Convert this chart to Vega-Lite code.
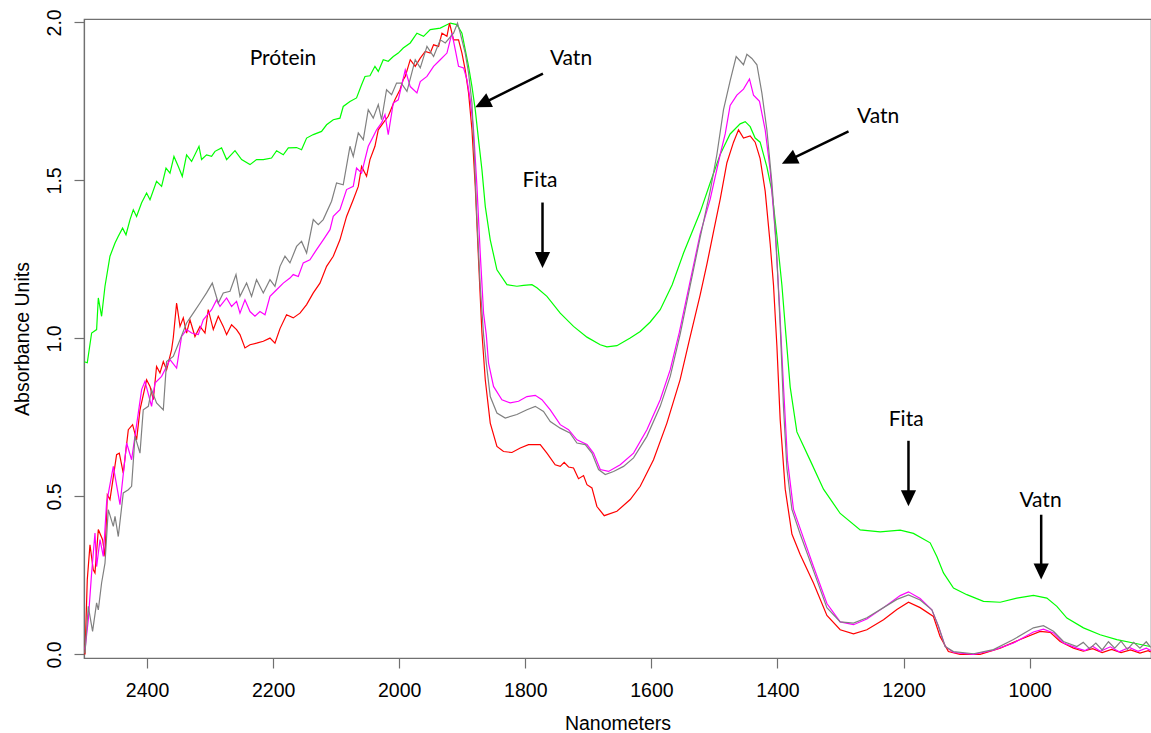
{
"$schema": "https://vega.github.io/schema/vega-lite/v6.json",
"width": 1067, "height": 639,
"autosize": {"type": "none"},
"padding": {"left": 84, "top": 19, "right": 0, "bottom": 75},
"background": "white",
"config": {"view": {"stroke": "#707070", "strokeWidth": 1.2}, "font": "Liberation Sans"},
"datasets": {
"spectra": [
{"s":"green","nm":2499.5,"a":0.926},{"s":"green","nm":2494.8,"a":0.923},{"s":"green","nm":2487.9,"a":1.017},{"s":"green","nm":2480.0,"a":1.028},{"s":"green","nm":2477.3,"a":1.128},{"s":"green","nm":2472.1,"a":1.070},{"s":"green","nm":2466.7,"a":1.165},{"s":"green","nm":2458.8,"a":1.260},{"s":"green","nm":2450.8,"a":1.302},{"s":"green","nm":2445.6,"a":1.323},{"s":"green","nm":2438.8,"a":1.349},{"s":"green","nm":2433.4,"a":1.328},{"s":"green","nm":2427.0,"a":1.376},{"s":"green","nm":2421.8,"a":1.407},{"s":"green","nm":2416.6,"a":1.386},{"s":"green","nm":2408.6,"a":1.429},{"s":"green","nm":2400.7,"a":1.460},{"s":"green","nm":2395.3,"a":1.439},{"s":"green","nm":2384.9,"a":1.497},{"s":"green","nm":2376.9,"a":1.481},{"s":"green","nm":2369.9,"a":1.539},{"s":"green","nm":2363.6,"a":1.523},{"s":"green","nm":2357.3,"a":1.576},{"s":"green","nm":2350.4,"a":1.544},{"s":"green","nm":2344.1,"a":1.513},{"s":"green","nm":2337.3,"a":1.581},{"s":"green","nm":2329.3,"a":1.560},{"s":"green","nm":2317.6,"a":1.608},{"s":"green","nm":2313.5,"a":1.566},{"s":"green","nm":2305.6,"a":1.581},{"s":"green","nm":2297.6,"a":1.576},{"s":"green","nm":2292.2,"a":1.592},{"s":"green","nm":2281.8,"a":1.603},{"s":"green","nm":2273.8,"a":1.566},{"s":"green","nm":2260.5,"a":1.594},{"s":"green","nm":2250.0,"a":1.566},{"s":"green","nm":2236.7,"a":1.550},{"s":"green","nm":2226.3,"a":1.566},{"s":"green","nm":2215.6,"a":1.566},{"s":"green","nm":2202.5,"a":1.571},{"s":"green","nm":2194.5,"a":1.594},{"s":"green","nm":2183.9,"a":1.581},{"s":"green","nm":2175.9,"a":1.603},{"s":"green","nm":2162.8,"a":1.604},{"s":"green","nm":2154.9,"a":1.597},{"s":"green","nm":2146.9,"a":1.634},{"s":"green","nm":2136.3,"a":1.645},{"s":"green","nm":2123.2,"a":1.655},{"s":"green","nm":2115.2,"a":1.676},{"s":"green","nm":2104.6,"a":1.692},{"s":"green","nm":2094.0,"a":1.697},{"s":"green","nm":2088.8,"a":1.734},{"s":"green","nm":2078.1,"a":1.750},{"s":"green","nm":2067.7,"a":1.761},{"s":"green","nm":2059.7,"a":1.803},{"s":"green","nm":2054.3,"a":1.829},{"s":"green","nm":2046.4,"a":1.831},{"s":"green","nm":2038.5,"a":1.861},{"s":"green","nm":2033.2,"a":1.845},{"s":"green","nm":2025.3,"a":1.882},{"s":"green","nm":2017.4,"a":1.877},{"s":"green","nm":2009.4,"a":1.892},{"s":"green","nm":2001.5,"a":1.903},{"s":"green","nm":1993.6,"a":1.919},{"s":"green","nm":1982.5,"a":1.935},{"s":"green","nm":1971.9,"a":1.966},{"s":"green","nm":1961.4,"a":1.956},{"s":"green","nm":1950.8,"a":1.977},{"s":"green","nm":1934.9,"a":1.982},{"s":"green","nm":1919.0,"a":1.998},{"s":"green","nm":1908.4,"a":1.993},{"s":"green","nm":1900.5,"a":1.966},{"s":"green","nm":1895.3,"a":1.914},{"s":"green","nm":1890.0,"a":1.861},{"s":"green","nm":1884.6,"a":1.797},{"s":"green","nm":1879.4,"a":1.724},{"s":"green","nm":1874.2,"a":1.629},{"s":"green","nm":1868.8,"a":1.534},{"s":"green","nm":1863.5,"a":1.418},{"s":"green","nm":1855.6,"a":1.312},{"s":"green","nm":1845.0,"a":1.217},{"s":"green","nm":1829.1,"a":1.170},{"s":"green","nm":1813.3,"a":1.165},{"s":"green","nm":1802.8,"a":1.168},{"s":"green","nm":1789.5,"a":1.170},{"s":"green","nm":1781.6,"a":1.160},{"s":"green","nm":1765.7,"a":1.133},{"s":"green","nm":1744.6,"a":1.080},{"s":"green","nm":1723.5,"a":1.038},{"s":"green","nm":1702.2,"a":1.004},{"s":"green","nm":1681.1,"a":0.980},{"s":"green","nm":1670.5,"a":0.973},{"s":"green","nm":1654.7,"a":0.977},{"s":"green","nm":1633.6,"a":1.001},{"s":"green","nm":1617.7,"a":1.022},{"s":"green","nm":1601.8,"a":1.052},{"s":"green","nm":1586.0,"a":1.091},{"s":"green","nm":1567.0,"a":1.170},{"s":"green","nm":1549.0,"a":1.270},{"s":"green","nm":1522.7,"a":1.399},{"s":"green","nm":1506.8,"a":1.492},{"s":"green","nm":1490.9,"a":1.582},{"s":"green","nm":1475.1,"a":1.647},{"s":"green","nm":1459.2,"a":1.679},{"s":"green","nm":1451.2,"a":1.686},{"s":"green","nm":1443.3,"a":1.670},{"s":"green","nm":1435.4,"a":1.634},{"s":"green","nm":1427.5,"a":1.621},{"s":"green","nm":1416.8,"a":1.543},{"s":"green","nm":1408.8,"a":1.466},{"s":"green","nm":1400.9,"a":1.324},{"s":"green","nm":1393.0,"a":1.169},{"s":"green","nm":1386.2,"a":1.001},{"s":"green","nm":1379.8,"a":0.846},{"s":"green","nm":1369.2,"a":0.704},{"s":"green","nm":1348.1,"a":0.614},{"s":"green","nm":1327.0,"a":0.523},{"s":"green","nm":1300.5,"a":0.446},{"s":"green","nm":1268.8,"a":0.394},{"s":"green","nm":1237.1,"a":0.388},{"s":"green","nm":1205.4,"a":0.393},{"s":"green","nm":1184.3,"a":0.383},{"s":"green","nm":1157.8,"a":0.353},{"s":"green","nm":1147.2,"a":0.310},{"s":"green","nm":1136.7,"a":0.258},{"s":"green","nm":1120.8,"a":0.210},{"s":"green","nm":1099.6,"a":0.189},{"s":"green","nm":1073.2,"a":0.168},{"s":"green","nm":1046.7,"a":0.165},{"s":"green","nm":1020.3,"a":0.178},{"s":"green","nm":993.9,"a":0.187},{"s":"green","nm":972.7,"a":0.178},{"s":"green","nm":956.8,"a":0.152},{"s":"green","nm":940.9,"a":0.115},{"s":"green","nm":914.6,"a":0.084},{"s":"green","nm":888.2,"a":0.062},{"s":"green","nm":861.7,"a":0.047},{"s":"green","nm":835.3,"a":0.036},{"s":"green","nm":808.9,"a":0.025},
{"s":"red","nm":2498.4,"a":0.000},{"s":"red","nm":2494.8,"a":0.236},{"s":"red","nm":2490.5,"a":0.347},{"s":"red","nm":2485.3,"a":0.268},{"s":"red","nm":2482.6,"a":0.258},{"s":"red","nm":2477.3,"a":0.395},{"s":"red","nm":2470.5,"a":0.363},{"s":"red","nm":2466.7,"a":0.310},{"s":"red","nm":2463.0,"a":0.505},{"s":"red","nm":2458.8,"a":0.490},{"s":"red","nm":2448.3,"a":0.632},{"s":"red","nm":2444.0,"a":0.637},{"s":"red","nm":2437.7,"a":0.574},{"s":"red","nm":2429.7,"a":0.711},{"s":"red","nm":2422.9,"a":0.727},{"s":"red","nm":2416.6,"a":0.679},{"s":"red","nm":2411.2,"a":0.774},{"s":"red","nm":2400.7,"a":0.869},{"s":"red","nm":2395.3,"a":0.848},{"s":"red","nm":2390.1,"a":0.806},{"s":"red","nm":2384.9,"a":0.911},{"s":"red","nm":2379.5,"a":0.891},{"s":"red","nm":2374.2,"a":0.927},{"s":"red","nm":2369.0,"a":0.901},{"s":"red","nm":2361.1,"a":0.964},{"s":"red","nm":2358.4,"a":1.002},{"s":"red","nm":2353.1,"a":1.112},{"s":"red","nm":2347.7,"a":1.038},{"s":"red","nm":2342.5,"a":1.065},{"s":"red","nm":2337.3,"a":1.017},{"s":"red","nm":2331.9,"a":1.059},{"s":"red","nm":2324.0,"a":1.006},{"s":"red","nm":2316.0,"a":1.038},{"s":"red","nm":2308.1,"a":1.017},{"s":"red","nm":2302.9,"a":1.091},{"s":"red","nm":2294.9,"a":1.028},{"s":"red","nm":2287.0,"a":1.070},{"s":"red","nm":2279.1,"a":1.038},{"s":"red","nm":2273.8,"a":1.012},{"s":"red","nm":2265.9,"a":1.043},{"s":"red","nm":2258.0,"a":1.028},{"s":"red","nm":2252.6,"a":1.012},{"s":"red","nm":2244.7,"a":0.970},{"s":"red","nm":2236.7,"a":0.980},{"s":"red","nm":2226.3,"a":0.985},{"s":"red","nm":2215.6,"a":0.991},{"s":"red","nm":2205.0,"a":1.001},{"s":"red","nm":2197.1,"a":0.985},{"s":"red","nm":2189.1,"a":1.031},{"s":"red","nm":2178.7,"a":1.075},{"s":"red","nm":2168.1,"a":1.065},{"s":"red","nm":2157.4,"a":1.080},{"s":"red","nm":2146.9,"a":1.107},{"s":"red","nm":2136.3,"a":1.144},{"s":"red","nm":2125.7,"a":1.175},{"s":"red","nm":2115.2,"a":1.228},{"s":"red","nm":2104.6,"a":1.260},{"s":"red","nm":2094.0,"a":1.312},{"s":"red","nm":2083.5,"a":1.386},{"s":"red","nm":2072.9,"a":1.439},{"s":"red","nm":2064.9,"a":1.481},{"s":"red","nm":2059.7,"a":1.544},{"s":"red","nm":2051.8,"a":1.513},{"s":"red","nm":2046.4,"a":1.566},{"s":"red","nm":2038.5,"a":1.608},{"s":"red","nm":2033.2,"a":1.660},{"s":"red","nm":2025.3,"a":1.682},{"s":"red","nm":2017.4,"a":1.703},{"s":"red","nm":2006.8,"a":1.755},{"s":"red","nm":1998.8,"a":1.787},{"s":"red","nm":1993.6,"a":1.819},{"s":"red","nm":1990.4,"a":1.829},{"s":"red","nm":1982.5,"a":1.882},{"s":"red","nm":1974.6,"a":1.861},{"s":"red","nm":1966.6,"a":1.887},{"s":"red","nm":1958.7,"a":1.908},{"s":"red","nm":1950.8,"a":1.903},{"s":"red","nm":1945.5,"a":1.929},{"s":"red","nm":1937.6,"a":1.924},{"s":"red","nm":1932.2,"a":1.966},{"s":"red","nm":1924.3,"a":1.956},{"s":"red","nm":1920.2,"a":1.998},{"s":"red","nm":1913.8,"a":1.945},{"s":"red","nm":1905.9,"a":1.945},{"s":"red","nm":1900.5,"a":1.903},{"s":"red","nm":1895.3,"a":1.850},{"s":"red","nm":1890.0,"a":1.777},{"s":"red","nm":1884.6,"a":1.660},{"s":"red","nm":1879.4,"a":1.481},{"s":"red","nm":1874.2,"a":1.249},{"s":"red","nm":1868.8,"a":1.018},{"s":"red","nm":1863.5,"a":0.869},{"s":"red","nm":1855.6,"a":0.732},{"s":"red","nm":1845.0,"a":0.658},{"s":"red","nm":1834.5,"a":0.642},{"s":"red","nm":1821.2,"a":0.639},{"s":"red","nm":1808.0,"a":0.653},{"s":"red","nm":1794.9,"a":0.664},{"s":"red","nm":1776.3,"a":0.664},{"s":"red","nm":1765.7,"a":0.637},{"s":"red","nm":1752.6,"a":0.600},{"s":"red","nm":1744.6,"a":0.595},{"s":"red","nm":1738.3,"a":0.608},{"s":"red","nm":1731.4,"a":0.593},{"s":"red","nm":1723.5,"a":0.590},{"s":"red","nm":1715.6,"a":0.556},{"s":"red","nm":1707.6,"a":0.566},{"s":"red","nm":1702.2,"a":0.537},{"s":"red","nm":1694.3,"a":0.527},{"s":"red","nm":1686.4,"a":0.468},{"s":"red","nm":1674.8,"a":0.439},{"s":"red","nm":1654.7,"a":0.453},{"s":"red","nm":1633.6,"a":0.490},{"s":"red","nm":1617.7,"a":0.532},{"s":"red","nm":1596.6,"a":0.616},{"s":"red","nm":1575.4,"a":0.732},{"s":"red","nm":1554.5,"a":0.869},{"s":"red","nm":1539.6,"a":0.996},{"s":"red","nm":1522.7,"a":1.137},{"s":"red","nm":1512.0,"a":1.234},{"s":"red","nm":1501.5,"a":1.337},{"s":"red","nm":1490.9,"a":1.440},{"s":"red","nm":1480.2,"a":1.556},{"s":"red","nm":1469.7,"a":1.621},{"s":"red","nm":1461.8,"a":1.660},{"s":"red","nm":1453.9,"a":1.634},{"s":"red","nm":1443.3,"a":1.641},{"s":"red","nm":1435.4,"a":1.621},{"s":"red","nm":1427.5,"a":1.569},{"s":"red","nm":1419.5,"a":1.466},{"s":"red","nm":1411.5,"a":1.298},{"s":"red","nm":1406.3,"a":1.169},{"s":"red","nm":1400.9,"a":0.975},{"s":"red","nm":1395.7,"a":0.743},{"s":"red","nm":1387.7,"a":0.523},{"s":"red","nm":1377.1,"a":0.381},{"s":"red","nm":1364.0,"a":0.316},{"s":"red","nm":1342.9,"a":0.226},{"s":"red","nm":1321.6,"a":0.123},{"s":"red","nm":1300.5,"a":0.078},{"s":"red","nm":1279.4,"a":0.065},{"s":"red","nm":1258.2,"a":0.078},{"s":"red","nm":1231.8,"a":0.110},{"s":"red","nm":1210.6,"a":0.142},{"s":"red","nm":1192.2,"a":0.165},{"s":"red","nm":1173.7,"a":0.148},{"s":"red","nm":1152.6,"a":0.120},{"s":"red","nm":1142.1,"a":0.057},{"s":"red","nm":1128.9,"a":0.009},{"s":"red","nm":1110.4,"a":0.000},{"s":"red","nm":1078.6,"a":0.000},{"s":"red","nm":1046.7,"a":0.020},{"s":"red","nm":1015.0,"a":0.047},{"s":"red","nm":983.3,"a":0.073},{"s":"red","nm":967.4,"a":0.070},{"s":"red","nm":951.6,"a":0.041},{"s":"red","nm":930.5,"a":0.020},{"s":"red","nm":915,"a":0.010},{"s":"red","nm":900,"a":0.018},{"s":"red","nm":885,"a":0.006},{"s":"red","nm":870,"a":0.016},{"s":"red","nm":855,"a":0.006},{"s":"red","nm":840,"a":0.014},{"s":"red","nm":825,"a":0.004},{"s":"red","nm":812,"a":0.012},{"s":"red","nm":808,"a":0.008},
{"s":"magenta","nm":2498.4,"a":0.015},{"s":"magenta","nm":2493.2,"a":0.110},{"s":"magenta","nm":2487.9,"a":0.258},{"s":"magenta","nm":2482.6,"a":0.384},{"s":"magenta","nm":2480.0,"a":0.278},{"s":"magenta","nm":2474.6,"a":0.363},{"s":"magenta","nm":2469.4,"a":0.310},{"s":"magenta","nm":2464.2,"a":0.479},{"s":"magenta","nm":2453.5,"a":0.595},{"s":"magenta","nm":2442.9,"a":0.474},{"s":"magenta","nm":2432.4,"a":0.669},{"s":"magenta","nm":2424.5,"a":0.616},{"s":"magenta","nm":2408.6,"a":0.838},{"s":"magenta","nm":2403.3,"a":0.864},{"s":"magenta","nm":2392.8,"a":0.785},{"s":"magenta","nm":2387.4,"a":0.859},{"s":"magenta","nm":2376.9,"a":0.880},{"s":"magenta","nm":2369.0,"a":0.911},{"s":"magenta","nm":2363.6,"a":0.933},{"s":"magenta","nm":2353.1,"a":0.906},{"s":"magenta","nm":2345.2,"a":1.006},{"s":"magenta","nm":2337.3,"a":1.028},{"s":"magenta","nm":2329.3,"a":1.017},{"s":"magenta","nm":2318.7,"a":1.012},{"s":"magenta","nm":2310.8,"a":1.059},{"s":"magenta","nm":2297.6,"a":1.091},{"s":"magenta","nm":2289.7,"a":1.122},{"s":"magenta","nm":2284.3,"a":1.101},{"s":"magenta","nm":2273.8,"a":1.128},{"s":"magenta","nm":2265.9,"a":1.101},{"s":"magenta","nm":2258.0,"a":1.117},{"s":"magenta","nm":2252.6,"a":1.080},{"s":"magenta","nm":2244.7,"a":1.122},{"s":"magenta","nm":2236.7,"a":1.085},{"s":"magenta","nm":2228.8,"a":1.070},{"s":"magenta","nm":2220.9,"a":1.085},{"s":"magenta","nm":2212.9,"a":1.075},{"s":"magenta","nm":2205.0,"a":1.133},{"s":"magenta","nm":2194.5,"a":1.154},{"s":"magenta","nm":2183.9,"a":1.175},{"s":"magenta","nm":2173.3,"a":1.191},{"s":"magenta","nm":2168.1,"a":1.202},{"s":"magenta","nm":2160.1,"a":1.196},{"s":"magenta","nm":2152.2,"a":1.239},{"s":"magenta","nm":2141.6,"a":1.249},{"s":"magenta","nm":2131.1,"a":1.281},{"s":"magenta","nm":2120.5,"a":1.312},{"s":"magenta","nm":2109.8,"a":1.344},{"s":"magenta","nm":2104.6,"a":1.386},{"s":"magenta","nm":2094.0,"a":1.407},{"s":"magenta","nm":2083.5,"a":1.471},{"s":"magenta","nm":2072.9,"a":1.481},{"s":"magenta","nm":2067.7,"a":1.539},{"s":"magenta","nm":2059.7,"a":1.523},{"s":"magenta","nm":2049.1,"a":1.608},{"s":"magenta","nm":2041.2,"a":1.639},{"s":"magenta","nm":2035.9,"a":1.660},{"s":"magenta","nm":2028.0,"a":1.682},{"s":"magenta","nm":2022.6,"a":1.708},{"s":"magenta","nm":2017.4,"a":1.645},{"s":"magenta","nm":2009.4,"a":1.745},{"s":"magenta","nm":2001.5,"a":1.755},{"s":"magenta","nm":1990.4,"a":1.850},{"s":"magenta","nm":1982.5,"a":1.797},{"s":"magenta","nm":1971.9,"a":1.777},{"s":"magenta","nm":1966.6,"a":1.813},{"s":"magenta","nm":1956.0,"a":1.829},{"s":"magenta","nm":1945.5,"a":1.861},{"s":"magenta","nm":1934.9,"a":1.882},{"s":"magenta","nm":1924.3,"a":1.903},{"s":"magenta","nm":1916.4,"a":1.966},{"s":"magenta","nm":1911.1,"a":1.914},{"s":"magenta","nm":1905.9,"a":1.861},{"s":"magenta","nm":1897.9,"a":1.856},{"s":"magenta","nm":1892.6,"a":1.819},{"s":"magenta","nm":1887.3,"a":1.755},{"s":"magenta","nm":1882.1,"a":1.660},{"s":"magenta","nm":1876.7,"a":1.481},{"s":"magenta","nm":1871.5,"a":1.270},{"s":"magenta","nm":1866.2,"a":1.080},{"s":"magenta","nm":1861.9,"a":1.012},{"s":"magenta","nm":1858.3,"a":0.922},{"s":"magenta","nm":1850.4,"a":0.848},{"s":"magenta","nm":1837.1,"a":0.806},{"s":"magenta","nm":1823.9,"a":0.796},{"s":"magenta","nm":1810.7,"a":0.801},{"s":"magenta","nm":1797.4,"a":0.816},{"s":"magenta","nm":1784.2,"a":0.820},{"s":"magenta","nm":1773.6,"a":0.806},{"s":"magenta","nm":1760.4,"a":0.774},{"s":"magenta","nm":1744.6,"a":0.727},{"s":"magenta","nm":1731.4,"a":0.711},{"s":"magenta","nm":1718.1,"a":0.679},{"s":"magenta","nm":1702.2,"a":0.664},{"s":"magenta","nm":1691.8,"a":0.637},{"s":"magenta","nm":1681.1,"a":0.585},{"s":"magenta","nm":1668.0,"a":0.579},{"s":"magenta","nm":1649.4,"a":0.600},{"s":"magenta","nm":1628.3,"a":0.637},{"s":"magenta","nm":1607.1,"a":0.711},{"s":"magenta","nm":1586.0,"a":0.806},{"s":"magenta","nm":1570.1,"a":0.901},{"s":"magenta","nm":1555.8,"a":1.018},{"s":"magenta","nm":1522.7,"a":1.330},{"s":"magenta","nm":1506.8,"a":1.440},{"s":"magenta","nm":1490.9,"a":1.582},{"s":"magenta","nm":1482.9,"a":1.647},{"s":"magenta","nm":1475.1,"a":1.737},{"s":"magenta","nm":1464.4,"a":1.770},{"s":"magenta","nm":1453.9,"a":1.789},{"s":"magenta","nm":1444.4,"a":1.821},{"s":"magenta","nm":1438.0,"a":1.770},{"s":"magenta","nm":1428.5,"a":1.750},{"s":"magenta","nm":1419.5,"a":1.660},{"s":"magenta","nm":1411.5,"a":1.531},{"s":"magenta","nm":1403.6,"a":1.337},{"s":"magenta","nm":1396.8,"a":1.104},{"s":"magenta","nm":1390.4,"a":0.846},{"s":"magenta","nm":1384.1,"a":0.614},{"s":"magenta","nm":1374.6,"a":0.459},{"s":"magenta","nm":1358.7,"a":0.368},{"s":"magenta","nm":1342.9,"a":0.278},{"s":"magenta","nm":1321.6,"a":0.161},{"s":"magenta","nm":1300.5,"a":0.103},{"s":"magenta","nm":1279.4,"a":0.094},{"s":"magenta","nm":1258.2,"a":0.112},{"s":"magenta","nm":1231.8,"a":0.148},{"s":"magenta","nm":1205.4,"a":0.186},{"s":"magenta","nm":1192.2,"a":0.198},{"s":"magenta","nm":1173.7,"a":0.177},{"s":"magenta","nm":1155.1,"a":0.141},{"s":"magenta","nm":1144.7,"a":0.089},{"s":"magenta","nm":1134.0,"a":0.025},{"s":"magenta","nm":1120.8,"a":0.006},{"s":"magenta","nm":1089.1,"a":0.000},{"s":"magenta","nm":1057.4,"a":0.013},{"s":"magenta","nm":1025.7,"a":0.036},{"s":"magenta","nm":994.0,"a":0.071},{"s":"magenta","nm":978.1,"a":0.080},{"s":"magenta","nm":962.2,"a":0.068},{"s":"magenta","nm":946.4,"a":0.036},{"s":"magenta","nm":925.1,"a":0.020},{"s":"magenta","nm":912,"a":0.012},{"s":"magenta","nm":900,"a":0.026},{"s":"magenta","nm":888,"a":0.010},{"s":"magenta","nm":872,"a":0.024},{"s":"magenta","nm":858,"a":0.008},{"s":"magenta","nm":842,"a":0.022},{"s":"magenta","nm":828,"a":0.010},{"s":"magenta","nm":815,"a":0.020},{"s":"magenta","nm":808,"a":0.012},
{"s":"gray","nm":2498.4,"a":0.004},{"s":"gray","nm":2493.2,"a":0.152},{"s":"gray","nm":2486.4,"a":0.073},{"s":"gray","nm":2480.0,"a":0.163},{"s":"gray","nm":2477.3,"a":0.141},{"s":"gray","nm":2472.1,"a":0.226},{"s":"gray","nm":2466.7,"a":0.289},{"s":"gray","nm":2461.5,"a":0.458},{"s":"gray","nm":2453.5,"a":0.405},{"s":"gray","nm":2450.8,"a":0.437},{"s":"gray","nm":2445.6,"a":0.373},{"s":"gray","nm":2437.7,"a":0.511},{"s":"gray","nm":2429.7,"a":0.521},{"s":"gray","nm":2424.5,"a":0.532},{"s":"gray","nm":2419.1,"a":0.690},{"s":"gray","nm":2411.2,"a":0.637},{"s":"gray","nm":2406.0,"a":0.774},{"s":"gray","nm":2398.0,"a":0.785},{"s":"gray","nm":2392.8,"a":0.838},{"s":"gray","nm":2384.9,"a":0.796},{"s":"gray","nm":2374.2,"a":0.774},{"s":"gray","nm":2369.0,"a":0.927},{"s":"gray","nm":2358.4,"a":0.943},{"s":"gray","nm":2347.7,"a":0.996},{"s":"gray","nm":2337.3,"a":1.049},{"s":"gray","nm":2326.7,"a":1.080},{"s":"gray","nm":2316.0,"a":1.112},{"s":"gray","nm":2305.6,"a":1.144},{"s":"gray","nm":2296.5,"a":1.175},{"s":"gray","nm":2287.0,"a":1.112},{"s":"gray","nm":2279.1,"a":1.144},{"s":"gray","nm":2268.4,"a":1.149},{"s":"gray","nm":2258.9,"a":1.202},{"s":"gray","nm":2252.6,"a":1.133},{"s":"gray","nm":2242.1,"a":1.175},{"s":"gray","nm":2234.2,"a":1.133},{"s":"gray","nm":2226.3,"a":1.186},{"s":"gray","nm":2215.6,"a":1.144},{"s":"gray","nm":2205.0,"a":1.186},{"s":"gray","nm":2197.1,"a":1.165},{"s":"gray","nm":2189.1,"a":1.228},{"s":"gray","nm":2181.2,"a":1.260},{"s":"gray","nm":2173.3,"a":1.239},{"s":"gray","nm":2162.8,"a":1.291},{"s":"gray","nm":2154.9,"a":1.307},{"s":"gray","nm":2146.9,"a":1.270},{"s":"gray","nm":2136.3,"a":1.376},{"s":"gray","nm":2128.4,"a":1.360},{"s":"gray","nm":2120.5,"a":1.376},{"s":"gray","nm":2107.3,"a":1.434},{"s":"gray","nm":2099.4,"a":1.492},{"s":"gray","nm":2088.8,"a":1.486},{"s":"gray","nm":2078.1,"a":1.608},{"s":"gray","nm":2072.9,"a":1.576},{"s":"gray","nm":2064.9,"a":1.650},{"s":"gray","nm":2057.0,"a":1.629},{"s":"gray","nm":2049.1,"a":1.724},{"s":"gray","nm":2041.2,"a":1.697},{"s":"gray","nm":2033.2,"a":1.740},{"s":"gray","nm":2028.0,"a":1.692},{"s":"gray","nm":2020.1,"a":1.787},{"s":"gray","nm":2012.1,"a":1.771},{"s":"gray","nm":2004.2,"a":1.808},{"s":"gray","nm":1996.8,"a":1.808},{"s":"gray","nm":1987.7,"a":1.782},{"s":"gray","nm":1974.6,"a":1.882},{"s":"gray","nm":1966.6,"a":1.856},{"s":"gray","nm":1956.0,"a":1.924},{"s":"gray","nm":1945.5,"a":1.892},{"s":"gray","nm":1934.9,"a":1.945},{"s":"gray","nm":1926.9,"a":1.935},{"s":"gray","nm":1913.8,"a":1.966},{"s":"gray","nm":1907.5,"a":1.998},{"s":"gray","nm":1903.2,"a":1.966},{"s":"gray","nm":1895.3,"a":1.903},{"s":"gray","nm":1890.0,"a":1.840},{"s":"gray","nm":1884.6,"a":1.745},{"s":"gray","nm":1881.0,"a":1.587},{"s":"gray","nm":1876.7,"a":1.376},{"s":"gray","nm":1871.5,"a":1.165},{"s":"gray","nm":1866.2,"a":1.012},{"s":"gray","nm":1861.9,"a":0.922},{"s":"gray","nm":1855.6,"a":0.816},{"s":"gray","nm":1845.0,"a":0.764},{"s":"gray","nm":1831.8,"a":0.748},{"s":"gray","nm":1813.3,"a":0.759},{"s":"gray","nm":1797.4,"a":0.774},{"s":"gray","nm":1784.2,"a":0.785},{"s":"gray","nm":1771.1,"a":0.769},{"s":"gray","nm":1760.4,"a":0.737},{"s":"gray","nm":1744.6,"a":0.716},{"s":"gray","nm":1729.3,"a":0.701},{"s":"gray","nm":1718.1,"a":0.669},{"s":"gray","nm":1704.9,"a":0.664},{"s":"gray","nm":1694.3,"a":0.637},{"s":"gray","nm":1683.8,"a":0.585},{"s":"gray","nm":1673.2,"a":0.569},{"s":"gray","nm":1660.0,"a":0.579},{"s":"gray","nm":1644.2,"a":0.595},{"s":"gray","nm":1628.3,"a":0.622},{"s":"gray","nm":1607.1,"a":0.690},{"s":"gray","nm":1586.0,"a":0.785},{"s":"gray","nm":1570.1,"a":0.880},{"s":"gray","nm":1554.5,"a":1.012},{"s":"gray","nm":1522.7,"a":1.319},{"s":"gray","nm":1506.8,"a":1.466},{"s":"gray","nm":1496.1,"a":1.582},{"s":"gray","nm":1485.6,"a":1.724},{"s":"gray","nm":1475.1,"a":1.815},{"s":"gray","nm":1465.5,"a":1.892},{"s":"gray","nm":1453.9,"a":1.866},{"s":"gray","nm":1448.5,"a":1.899},{"s":"gray","nm":1440.6,"a":1.886},{"s":"gray","nm":1432.6,"a":1.866},{"s":"gray","nm":1424.7,"a":1.776},{"s":"gray","nm":1416.8,"a":1.660},{"s":"gray","nm":1408.8,"a":1.492},{"s":"gray","nm":1402.0,"a":1.298},{"s":"gray","nm":1395.7,"a":1.040},{"s":"gray","nm":1390.4,"a":0.781},{"s":"gray","nm":1385.0,"a":0.588},{"s":"gray","nm":1377.1,"a":0.459},{"s":"gray","nm":1364.0,"a":0.381},{"s":"gray","nm":1342.9,"a":0.265},{"s":"gray","nm":1321.6,"a":0.148},{"s":"gray","nm":1300.5,"a":0.103},{"s":"gray","nm":1279.4,"a":0.099},{"s":"gray","nm":1258.2,"a":0.116},{"s":"gray","nm":1231.8,"a":0.148},{"s":"gray","nm":1210.6,"a":0.174},{"s":"gray","nm":1192.2,"a":0.188},{"s":"gray","nm":1173.7,"a":0.172},{"s":"gray","nm":1155.1,"a":0.141},{"s":"gray","nm":1144.7,"a":0.089},{"s":"gray","nm":1134.0,"a":0.025},{"s":"gray","nm":1120.8,"a":0.009},{"s":"gray","nm":1089.1,"a":0.002},{"s":"gray","nm":1057.4,"a":0.015},{"s":"gray","nm":1025.7,"a":0.047},{"s":"gray","nm":994.0,"a":0.084},{"s":"gray","nm":978.1,"a":0.091},{"s":"gray","nm":962.2,"a":0.073},{"s":"gray","nm":946.4,"a":0.041},{"s":"gray","nm":925.1,"a":0.025},{"s":"gray","nm":915,"a":0.038},{"s":"gray","nm":905,"a":0.018},{"s":"gray","nm":895,"a":0.036},{"s":"gray","nm":885,"a":0.014},{"s":"gray","nm":875,"a":0.040},{"s":"gray","nm":865,"a":0.020},{"s":"gray","nm":855,"a":0.042},{"s":"gray","nm":845,"a":0.016},{"s":"gray","nm":835,"a":0.038},{"s":"gray","nm":825,"a":0.020},{"s":"gray","nm":815,"a":0.040},{"s":"gray","nm":808,"a":0.022}
],
"arrows": [
{"x1":1772.0,"y1":1.838,"x2":1868.0,"y2":1.743,"ang":244},
{"x1":1287.3,"y1":1.655,"x2":1381.6,"y2":1.564,"ang":244},
{"x1":1772.7,"y1":1.430,"x2":1772.7,"y2":1.248,"ang":180},
{"x1":1192.2,"y1":0.676,"x2":1192.2,"y2":0.494,"ang":180},
{"x1":981.7,"y1":0.442,"x2":981.7,"y2":0.262,"ang":180}
],
"notes": [
{"x":2184.4,"y":1.864,"t":"Prótein"},
{"x":1727.5,"y":1.864,"t":"Vatn"},
{"x":1776.8,"y":1.478,"t":"Fita"},
{"x":1240.2,"y":1.682,"t":"Vatn"},
{"x":1195.8,"y":0.722,"t":"Fita"},
{"x":982.8,"y":0.466,"t":"Vatn"}
]
},
"layer": [
{
"data": {"name": "spectra"},
"mark": {"type": "line", "strokeWidth": 1.2, "clip": true},
"encoding": {
"x": {"field": "nm", "type": "quantitative",
 "scale": {"domain": [807.5, 2500], "reverse": true, "nice": false, "zero": false},
 "axis": {"values": [2400,2200,2000,1800,1600,1400,1200,1000], "format": "d", "title": "Nanometers",
  "titleFont": "Liberation Sans", "titleFontSize": 19.5, "titleFontWeight": "normal", "titleColor": "#000000",
  "titleBaseline": "alphabetic", "titleY": 71,
  "labelFont": "Liberation Sans", "labelFontSize": 19.5, "labelColor": "#000000", "labelPadding": 13, "labelBaseline": "top",
  "labelFlush": false, "labelOverlap": false,
  "tickSize": 10, "tickColor": "#707070", "tickWidth": 1.2, "domainColor": "#707070", "domainWidth": 1.2, "grid": false}},
"y": {"field": "a", "type": "quantitative",
 "scale": {"domain": [-0.0114, 2.0108], "nice": false, "zero": false},
 "axis": {"values": [0,0.5,1,1.5,2], "format": ".1f", "title": "Absorbance Units",
  "titleFont": "Liberation Sans", "titleFontSize": 19.5, "titleFontWeight": "normal", "titleColor": "#000000",
  "titleAngle": 270, "titleBaseline": "alphabetic", "titleX": -56, "titleY": 319.5,
  "labelFont": "Liberation Sans", "labelFontSize": 19.5, "labelColor": "#000000", "labelAngle": 270,
  "labelAlign": "center", "labelBaseline": "alphabetic", "labelPadding": 14, "labelFlush": false, "labelOverlap": false,
  "tickSize": 10, "tickColor": "#707070", "tickWidth": 1.2, "domainColor": "#707070", "domainWidth": 1.2, "grid": false}},
"color": {"field": "s", "type": "nominal", "sort": null,
 "scale": {"domain": ["green","red","magenta","gray"], "range": ["#00ff00","#ff0000","#ff00ff","#808080"]}, "legend": null}
}
},
{
"data": {"name": "arrows"},
"mark": {"type": "rule", "strokeWidth": 2.5, "color": "#000000"},
"encoding": {
"x": {"field": "x1", "type": "quantitative", "title": "Nanometers"},
"y": {"field": "y1", "type": "quantitative", "title": "Absorbance Units"},
"x2": {"field": "x2"},
"y2": {"field": "y2"}
}
},
{
"data": {"name": "arrows"},
"mark": {"type": "point", "shape": "M0,-1L0.95,1L-0.95,1Z", "filled": true, "size": 256, "color": "#000000", "opacity": 1, "strokeWidth": 0},
"encoding": {
"x": {"field": "x2", "type": "quantitative", "title": "Nanometers"},
"y": {"field": "y2", "type": "quantitative", "title": "Absorbance Units"},
"angle": {"field": "ang", "type": "quantitative", "scale": null}
}
},
{
"data": {"name": "notes"},
"mark": {"type": "text", "font": "Lato", "fontSize": 21, "align": "center", "baseline": "alphabetic", "color": "#000000"},
"encoding": {
"x": {"field": "x", "type": "quantitative", "title": "Nanometers"},
"y": {"field": "y", "type": "quantitative", "title": "Absorbance Units"},
"text": {"field": "t"}
}
}
]
}
